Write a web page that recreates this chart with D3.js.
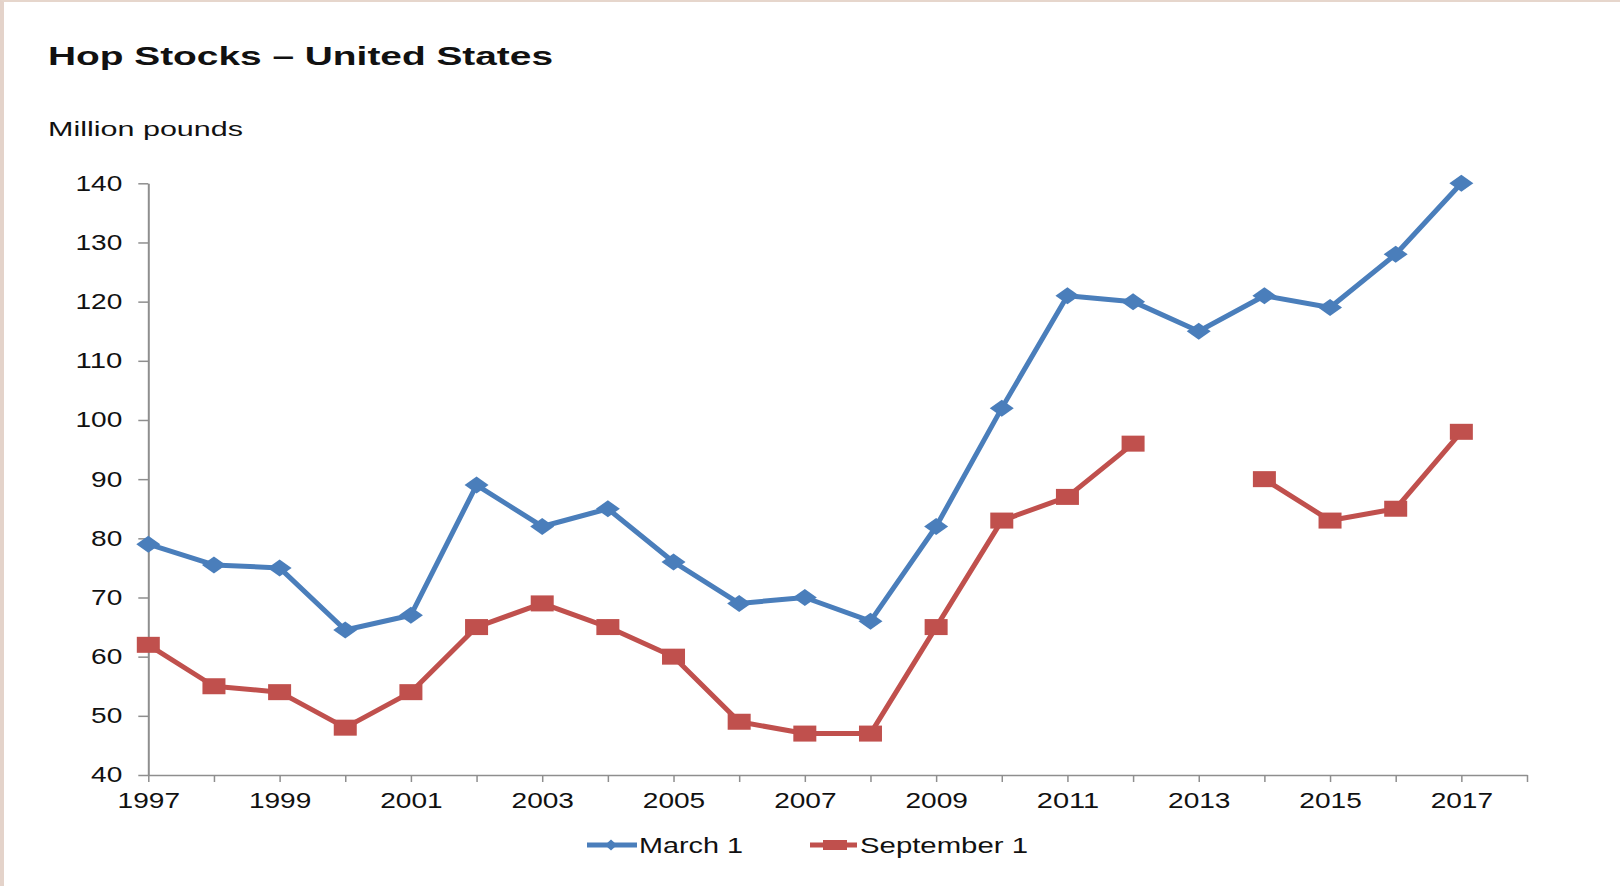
<!DOCTYPE html>
<html>
<head>
<meta charset="utf-8">
<script src="https://cdn.jsdelivr.net/npm/d3@7"></script>
<style>
  html, body { margin: 0; padding: 0; background: #ffffff; }
  #wrap { position: relative; width: 1620px; height: 886px; box-sizing: border-box;
          border-left: 4px solid #e4d3ca; border-top: 2px solid #e6d6cc; overflow: hidden; }
  svg { position: absolute; left: -4px; top: -2px; }
  text { font-family: "Liberation Sans", Arial, sans-serif; fill: #111; }
</style>
</head>
<body>
<div id="wrap"></div>
<script>
// ---- data ----
const years = [1997,1998,1999,2000,2001,2002,2003,2004,2005,2006,2007,2008,2009,2010,2011,2012,2013,2014,2015,2016,2017];
const march1 = [79,75.5,75,64.5,67,89,82,85,76,69,70,66,82,102,121,120,115,121,119,128,140];
const september1 = [62,55,54,48,54,65,69,65,60,49,47,47,65,83,87,96,null,90,83,85,98];
const xTickValues = [1997,1998,1999,2000,2001,2002,2003,2004,2005,2006,2007,2008,2009,2010,2011,2012,2013,2014,2015,2016,2017,2018];
const xTickLabels = ["1997","1999","2001","2003","2005","2007","2009","2011","2013","2015","2017"];
const yTickValues = [40,50,60,70,80,90,100,110,120,130,140];
const seriesNames = ["March 1","September 1"];
const title = "Hop Stocks \u2013 United States";
const yTitle = "Million pounds";

const W = 1620, H = 886;
const blue = "#4A7EBB", red = "#C0504D", axisCol = "#8e8e8e";

const svg = d3.select("#wrap").append("svg").attr("width", W).attr("height", H);

const x = d3.scaleLinear().domain([1997, 2018]).range([148.3, 1527]);
const y = d3.scaleLinear().domain([40, 140]).range([775, 183.3]);

// title & unit
svg.append("text").attr("x", 48).attr("y", 65)
  .attr("font-size", 25).attr("font-weight", "bold")
  .attr("textLength", 505).attr("lengthAdjust", "spacingAndGlyphs")
  .text(title);
svg.append("text").attr("x", 48).attr("y", 136)
  .attr("font-size", 21)
  .attr("textLength", 195).attr("lengthAdjust", "spacingAndGlyphs")
  .text(yTitle);

const digitW = 15.6;

// y axis
const gy = svg.append("g").attr("transform", `translate(${x(1997)},0)`)
  .call(d3.axisLeft(y).tickValues(yTickValues).tickSize(10).tickSizeOuter(0).tickPadding(16));
gy.select(".domain").attr("stroke", axisCol).attr("stroke-width", 2);
gy.selectAll(".tick line").attr("stroke", axisCol).attr("stroke-width", 1.5);
gy.selectAll(".tick text")
  .attr("font-size", 21.5).attr("font-family", "Liberation Sans, Arial, sans-serif").attr("fill", "#111")
  .attr("textLength", d => String(d).length * digitW).attr("lengthAdjust", "spacingAndGlyphs");

// x axis
const gx = svg.append("g").attr("transform", `translate(0,${y(40)})`)
  .call(d3.axisBottom(x).tickValues(xTickValues).tickSize(7).tickSizeOuter(0).tickPadding(11)
        .tickFormat(d => xTickLabels.includes(String(d)) ? String(d) : ""));
gx.select(".domain").attr("stroke", axisCol).attr("stroke-width", 1.5);
gx.selectAll(".tick line").attr("stroke", axisCol).attr("stroke-width", 1.5);
gx.selectAll(".tick text")
  .attr("font-size", 21.5).attr("font-family", "Liberation Sans, Arial, sans-serif").attr("fill", "#111")
  .filter(d => xTickLabels.includes(String(d)))
  .attr("textLength", d => String(d).length * digitW).attr("lengthAdjust", "spacingAndGlyphs");

// series
const mData = years.map((yr, i) => ({yr, v: march1[i]}));
const sData = years.map((yr, i) => ({yr, v: september1[i]}));
const line = d3.line().defined(d => d.v != null).x(d => x(d.yr)).y(d => y(d.v));

svg.append("path").datum(sData).attr("d", line)
  .attr("fill", "none").attr("stroke", red).attr("stroke-width", 5).attr("stroke-linejoin", "round");
svg.selectAll(".sq").data(sData.filter(d => d.v != null)).enter().append("rect")
  .attr("x", d => x(d.yr) - 11.5).attr("y", d => y(d.v) - 8)
  .attr("width", 23).attr("height", 16).attr("fill", red);

svg.append("path").datum(mData).attr("d", line)
  .attr("fill", "none").attr("stroke", blue).attr("stroke-width", 5).attr("stroke-linejoin", "round");
const diamond = "M0,-8.5L12,0L0,8.5L-12,0Z";
svg.selectAll(".dm").data(mData).enter().append("path")
  .attr("d", diamond).attr("transform", d => `translate(${x(d.yr)},${y(d.v)})`)
  .attr("fill", blue);

// legend
const lg = svg.append("g");
lg.append("line").attr("x1", 587).attr("x2", 637).attr("y1", 845).attr("y2", 845)
  .attr("stroke", blue).attr("stroke-width", 5);
lg.append("path").attr("d", "M0,-5.5L6,0L0,5.5L-6,0Z").attr("transform", "translate(611,845)").attr("fill", blue);
lg.append("text").attr("x", 639).attr("y", 852.5).attr("font-size", 21.5)
  .attr("textLength", 104).attr("lengthAdjust", "spacingAndGlyphs").text(seriesNames[0]);

lg.append("line").attr("x1", 810).attr("x2", 857).attr("y1", 845).attr("y2", 845)
  .attr("stroke", red).attr("stroke-width", 5);
lg.append("rect").attr("x", 823).attr("y", 840).attr("width", 24).attr("height", 10).attr("fill", red);
lg.append("text").attr("x", 860).attr("y", 852.5).attr("font-size", 21.5)
  .attr("textLength", 168).attr("lengthAdjust", "spacingAndGlyphs").text(seriesNames[1]);
</script>
</body>
</html>
